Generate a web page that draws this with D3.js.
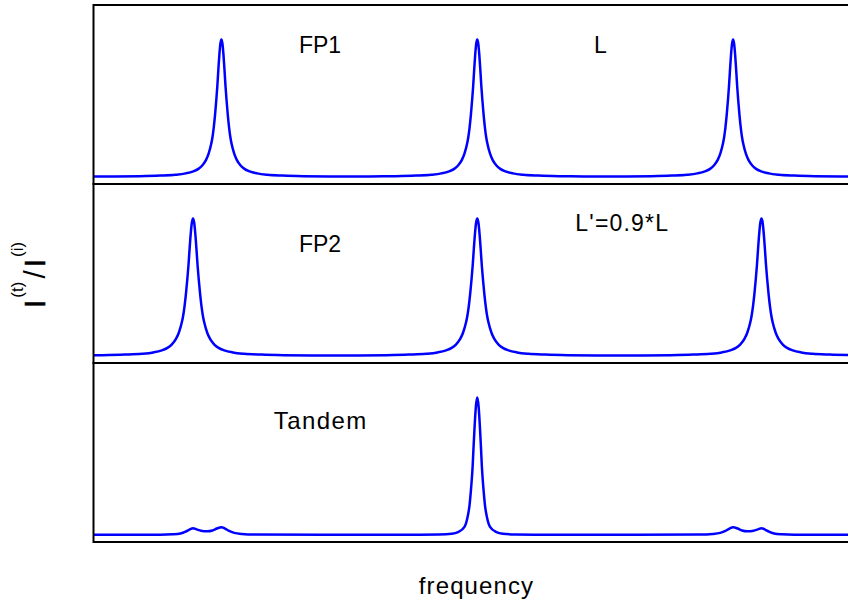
<!DOCTYPE html>
<html>
<head>
<meta charset="utf-8">
<script src="https://cdn.jsdelivr.net/npm/d3@7"></script>
<style>
  body { margin: 0; background: #fff; }
  svg { display: block; font-family: "Liberation Sans", Arial, sans-serif; }
</style>
</head>
<body>
<svg id="chart" width="848" height="603"></svg>
<script>
// frequency is in units of the FP1 free spectral range, centred on the common peak
const fp1Peaks = [-1, 0, 1];
const fp2Peaks = [-1.111, 0, 1.111];
const fp1Range = 1;
const fp2Range = 1.111;

// single transmission peak: offset (fraction of FSR) and I(t)/I(i)
const profileOffset = [0, 0.004, 0.008, 0.012, 0.016, 0.02, 0.025, 0.03, 0.035, 0.04,
    0.05, 0.06, 0.075, 0.09, 0.11, 0.14, 0.18, 0.24, 0.32, 0.42, 0.5];
const profileValue = [1, 0.97, 0.89, 0.78, 0.66, 0.56, 0.45, 0.36, 0.29, 0.24,
    0.17, 0.125, 0.084, 0.06, 0.042, 0.027, 0.017, 0.011, 0.007, 0.0053, 0.005];

// tandem transmission
const tandemFreq = [-1.5, -1.24, -1.19, -1.16, -1.14, -1.125, -1.111, -1.097, -1.08, -1.056,
    -1.035, -1.02, -1.0, -0.986, -0.97, -0.95, -0.92, -0.87, -0.6, -0.3, -0.15, -0.1,
    -0.075, -0.05, -0.038, -0.03, -0.025, -0.02, -0.018, -0.015, -0.01, -0.005, 0,
    0.005, 0.01, 0.015, 0.018, 0.02, 0.025, 0.03, 0.038, 0.05, 0.075, 0.1, 0.15, 0.3,
    0.6, 0.87, 0.92, 0.95, 0.97, 0.986, 1.0, 1.02, 1.035, 1.056, 1.08, 1.097, 1.111,
    1.125, 1.14, 1.16, 1.19, 1.24, 1.5];
const tandemValue = [0.002, 0.003, 0.006, 0.012, 0.025, 0.04, 0.05, 0.042, 0.032, 0.028,
    0.034, 0.046, 0.058, 0.048, 0.03, 0.016, 0.008, 0.004, 0.002, 0.002, 0.005, 0.01,
    0.022, 0.06, 0.13, 0.22, 0.32, 0.44, 0.5, 0.62, 0.8, 0.94, 1,
    0.94, 0.8, 0.62, 0.5, 0.44, 0.32, 0.22, 0.13, 0.06, 0.022, 0.01, 0.005, 0.002,
    0.002, 0.004, 0.008, 0.016, 0.03, 0.048, 0.058, 0.046, 0.034, 0.028, 0.032, 0.042, 0.05,
    0.04, 0.025, 0.012, 0.006, 0.003, 0.002];

const panelLabels = ["FP1", "FP2", "Tandem"];
const noteLabels = ["L", "L'=0.9*L", ""];

function buildSeries(peaks, fsr) {
    let pts = [];
    peaks.forEach(function (c) {
        profileOffset.forEach(function (d, i) {
            pts.push([c - d * fsr, profileValue[i]]);
            if (d > 0) pts.push([c + d * fsr, profileValue[i]]);
        });
    });
    pts.sort((a, b) => a[0] - b[0]);
    // drop the duplicate midpoints where two peaks meet
    return pts.filter((p, i) => i === 0 || Math.abs(p[0] - pts[i - 1][0]) > 1e-6);
}

const series = [
    buildSeries(fp1Peaks, fp1Range),
    buildSeries(fp2Peaks, fp2Range),
    tandemFreq.map((f, i) => [f, tandemValue[i]])
];

const svg = d3.select("#chart");

const left = 93.5, right = 861;
const panelTop = [5, 184, 363];
const panelH = 179;

const x = d3.scaleLinear().domain([-1.5, 1.5]).range([left, right]);

svg.append("defs").append("clipPath")
    .attr("id", "clip")
    .append("rect")
    .attr("x", left)
    .attr("y", panelTop[0])
    .attr("width", right - left)
    .attr("height", panelH * 3);

const noteX = [600.5, 621.7, 0];
const noteY = [53, 230.7, 0];
const labelY = [53, 251.5, 428.5];
const labelSize = [23, 23, 24];
const labelSpacing = [0, 0, 1.4];

series.forEach(function (data, k) {
    const top = panelTop[k];
    const y = d3.scaleLinear().domain([-0.05, 1.25]).range([top + panelH, top]);

    const line = d3.line()
        .x(d => x(d[0]))
        .y(d => y(d[1]))
        .curve(d3.curveMonotoneX);

    svg.append("path")
        .datum(data)
        .attr("clip-path", "url(#clip)")
        .attr("fill", "none")
        .attr("stroke", "#0000ff")
        .attr("stroke-width", 2.5)
        .attr("stroke-linejoin", "round")
        .attr("d", line);

    svg.append("rect")
        .attr("x", left)
        .attr("y", top)
        .attr("width", right - left)
        .attr("height", panelH)
        .attr("fill", "none")
        .attr("stroke", "#000")
        .attr("stroke-width", 2);

    svg.append("text")
        .attr("x", 320 + labelSpacing[k] / 2)
        .attr("y", labelY[k])
        .attr("text-anchor", "middle")
        .attr("font-size", labelSize[k])
        .attr("letter-spacing", labelSpacing[k])
        .text(panelLabels[k]);

    if (noteLabels[k]) {
        svg.append("text")
            .attr("x", noteX[k] + (k === 1 ? 0.6 : 0))
            .attr("y", noteY[k])
            .attr("text-anchor", "middle")
            .attr("font-size", 23)
            .attr("letter-spacing", k === 1 ? 1.2 : 0)
            .text(noteLabels[k]);
    }
});

// axis titles
svg.append("text")
    .attr("x", 476.5)
    .attr("y", 594)
    .attr("text-anchor", "middle")
    .attr("font-size", 24)
    .attr("letter-spacing", 1.1)
    .text("frequency");

const yTitle = svg.append("text")
    .attr("transform", "translate(45,308) rotate(-90)")
    .attr("text-anchor", "start")
    .attr("font-size", 30)
    .attr("stroke", "#000")
    .attr("stroke-width", 0.6);
yTitle.append("tspan").text("I");
yTitle.append("tspan").attr("dx", 2).attr("dy", -22).attr("font-size", 17).attr("stroke-width", 0).text("(t)");
yTitle.append("tspan").attr("dx", 3).attr("dy", 22).attr("stroke-width", 0).text("/");
yTitle.append("tspan").attr("dx", 3).text("I");
yTitle.append("tspan").attr("dx", 2).attr("dy", -22).attr("font-size", 17).attr("stroke-width", 0).text("(i)");
</script>
</body>
</html>
